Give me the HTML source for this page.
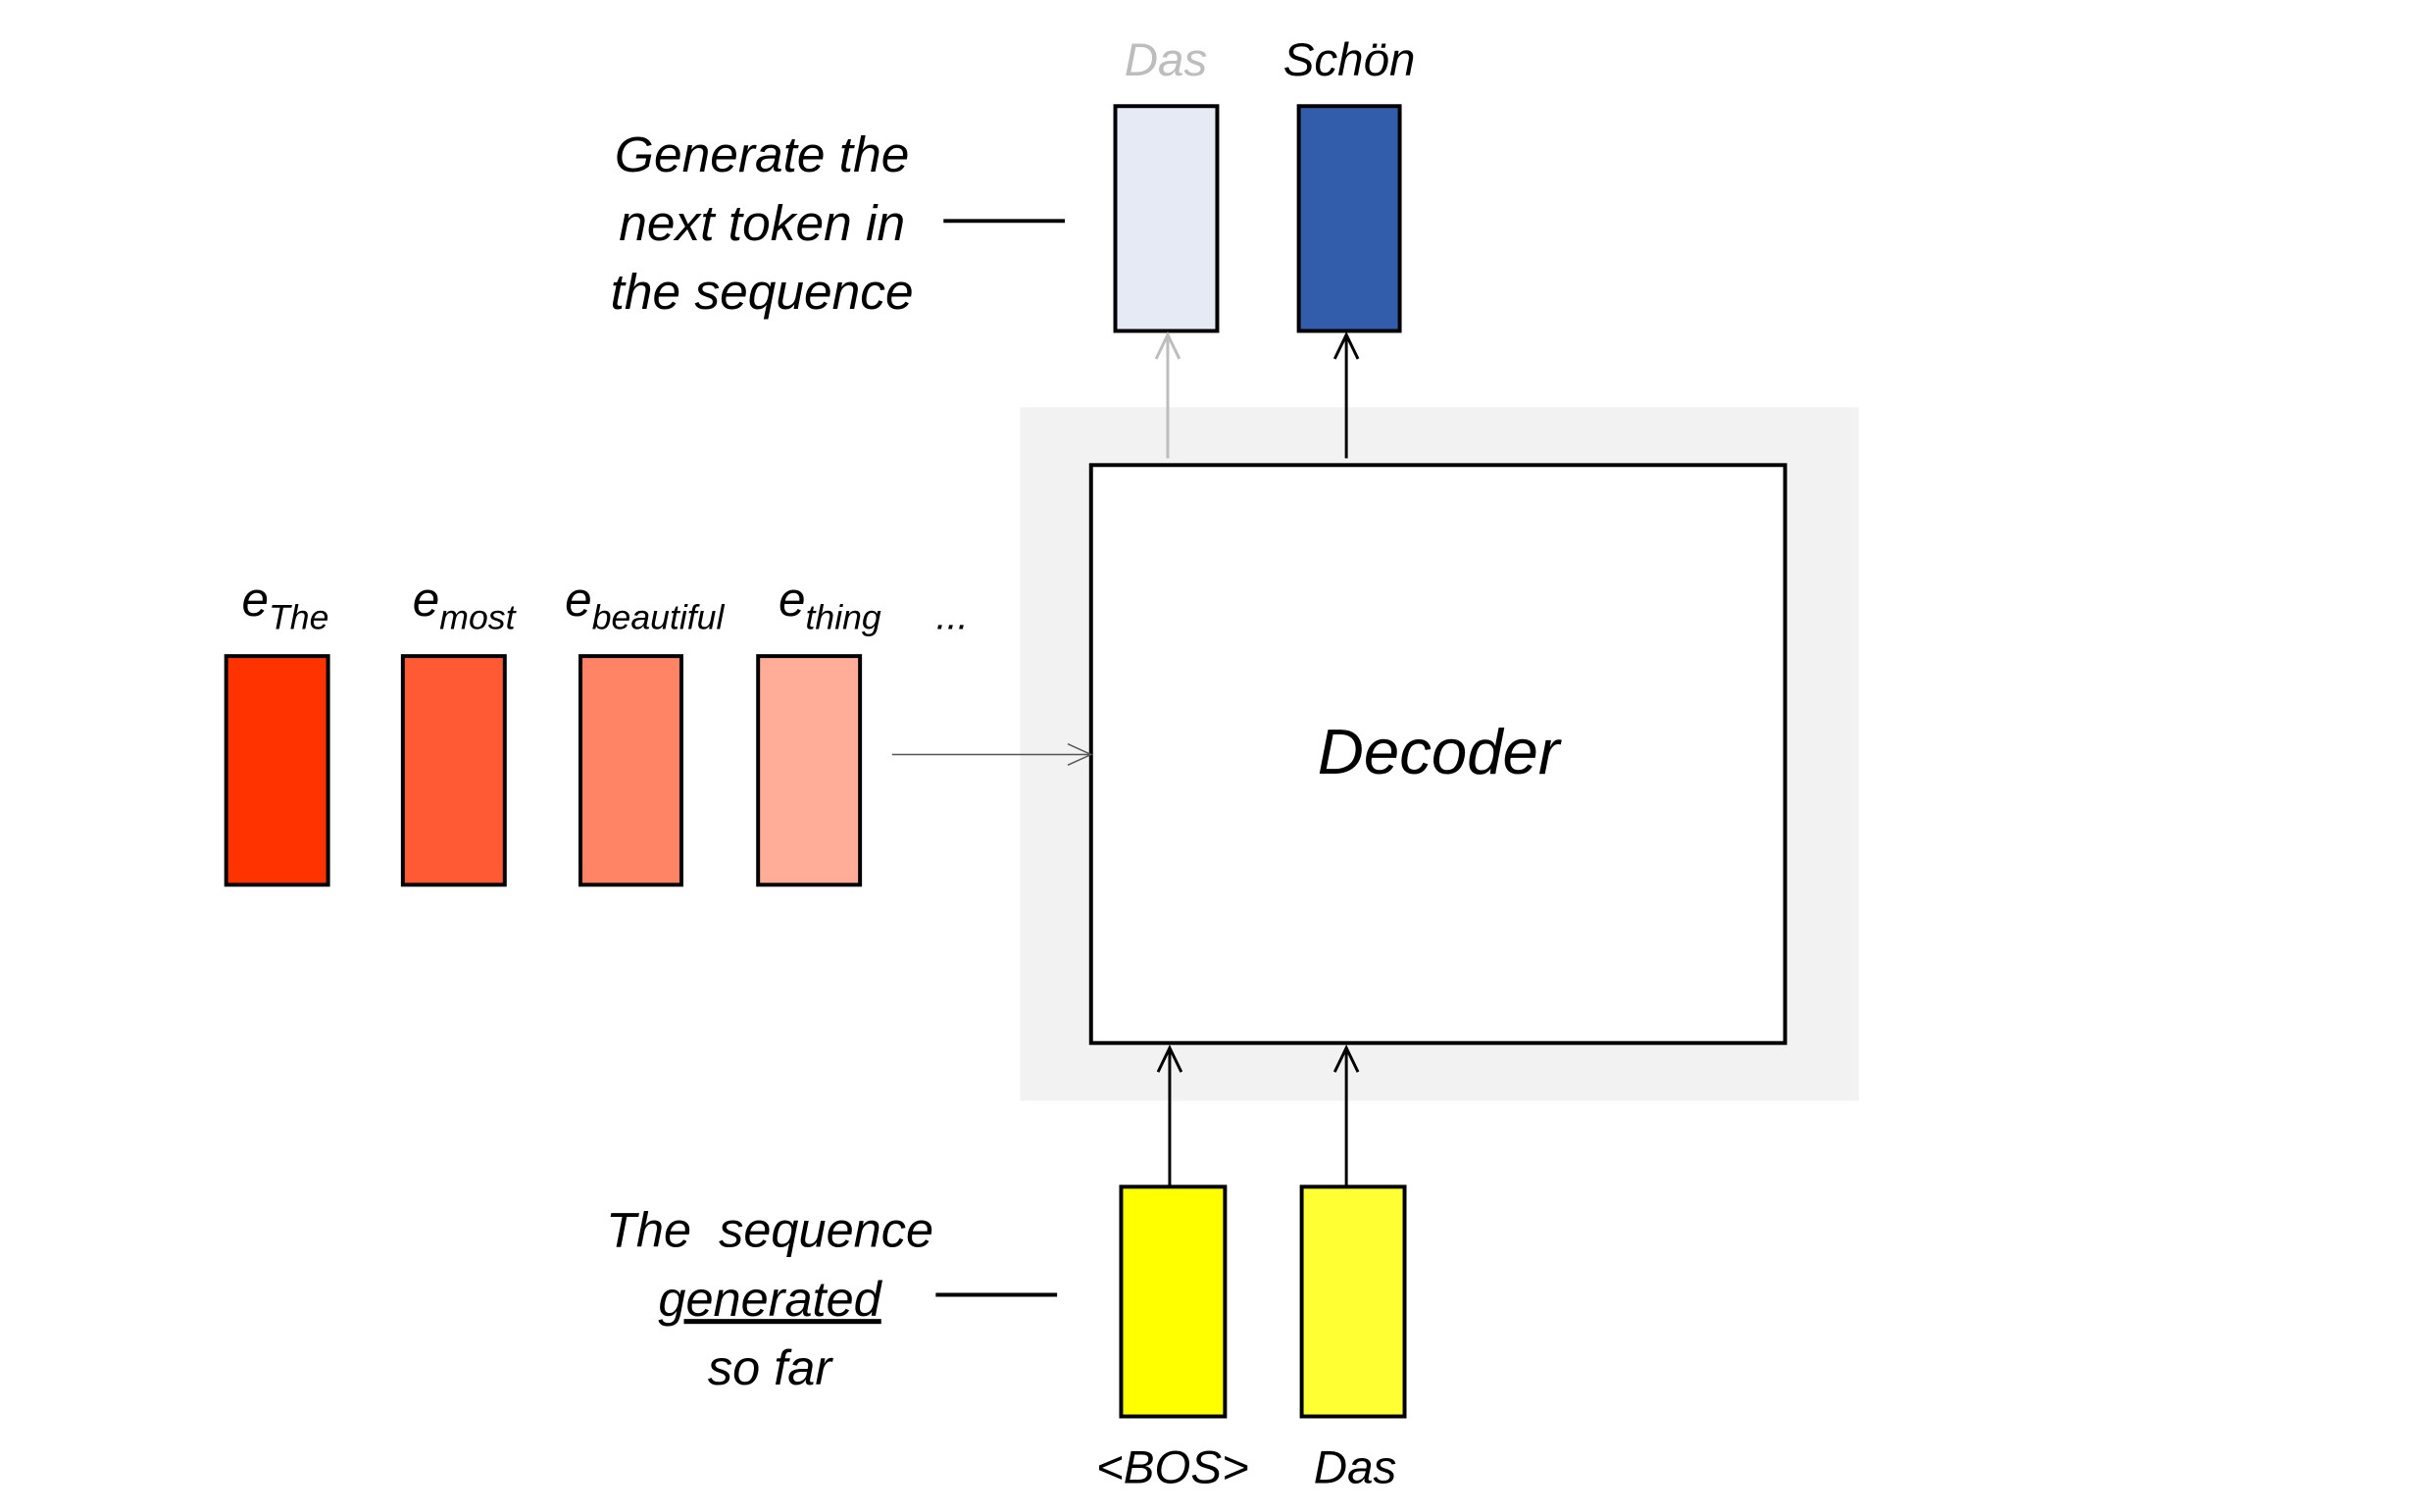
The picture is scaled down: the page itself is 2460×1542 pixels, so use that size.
<!DOCTYPE html>
<html><head><meta charset="utf-8"><style>html,body{margin:0;padding:0;background:#fff}svg{display:block}</style></head>
<body>
<svg width="2460" height="1542" viewBox="0 0 2460 1542" xmlns="http://www.w3.org/2000/svg" font-family="Liberation Sans, sans-serif" font-style="italic">
<g transform="scale(0.990,0.984)">
<rect x="1051" y="422" width="864" height="719" fill="#f2f2f2"/>
<rect x="1124" y="482" width="715" height="599" fill="#fff" stroke="#000" stroke-width="4"/>
<text x="1482" y="802" font-size="66" text-anchor="middle" fill="#000">Decoder</text>

<rect x="1149" y="110" width="105" height="233" fill="#e6eaf4" stroke="#000" stroke-width="4"/>
<rect x="1338" y="110" width="104" height="233" fill="#325dab" stroke="#000" stroke-width="4"/>
<text x="1201" y="78" font-size="48" text-anchor="middle" fill="#bdbdbd">Das</text>
<text x="1390" y="78" font-size="48" text-anchor="middle" fill="#000">Schön</text>
<line x1="1203" y1="475" x2="1203" y2="347" stroke="#bdbdbd" stroke-width="3"/>
<polyline points="1191,372 1203,347 1215,372" fill="none" stroke="#bdbdbd" stroke-width="3"/>
<line x1="1387" y1="475" x2="1387" y2="347" stroke="#000" stroke-width="3"/>
<polyline points="1375,372 1387,347 1399,372" fill="none" stroke="#000" stroke-width="3"/>

<text font-size="52" text-anchor="middle" fill="#000"><tspan x="785" y="178">Generate the</tspan><tspan x="785" y="249">next token in</tspan><tspan x="785" y="320">the sequence</tspan></text>
<line x1="972" y1="229" x2="1097" y2="229" stroke="#000" stroke-width="4"/>

<rect x="233" y="680" width="105" height="237" fill="#ff3300" stroke="#000" stroke-width="4"/>
<rect x="415" y="680" width="105" height="237" fill="#ff5a33" stroke="#000" stroke-width="4"/>
<rect x="598" y="680" width="104" height="237" fill="#ff8466" stroke="#000" stroke-width="4"/>
<rect x="781" y="680" width="105" height="237" fill="#ffad99" stroke="#000" stroke-width="4"/>
<text y="638" font-size="50" fill="#000"><tspan x="249">e</tspan><tspan font-size="36" dy="14">The</tspan></text>
<text y="638" font-size="50" fill="#000"><tspan x="425">e</tspan><tspan font-size="36" dy="14">most</tspan></text>
<text y="638" font-size="50" fill="#000"><tspan x="582">e</tspan><tspan font-size="36" dy="14">beautiful</tspan></text>
<text y="638" font-size="50" fill="#000"><tspan x="802">e</tspan><tspan font-size="36" dy="14">thing</tspan></text>
<text x="981" y="652" font-size="40" text-anchor="middle" fill="#000">...</text>
<line x1="919" y1="782" x2="1124" y2="782" stroke="#555" stroke-width="1.5"/>
<polyline points="1100,771 1124,782 1100,793" fill="none" stroke="#555" stroke-width="1.5"/>

<line x1="1205" y1="1230" x2="1205" y2="1086" stroke="#000" stroke-width="3"/>
<polyline points="1193,1111 1205,1086 1217,1111" fill="none" stroke="#000" stroke-width="3"/>
<line x1="1387" y1="1230" x2="1387" y2="1086" stroke="#000" stroke-width="3"/>
<polyline points="1375,1111 1387,1086 1399,1111" fill="none" stroke="#000" stroke-width="3"/>
<rect x="1155" y="1230" width="107" height="238" fill="#ffff00" stroke="#000" stroke-width="4"/>
<rect x="1341" y="1230" width="106" height="238" fill="#ffff33" stroke="#000" stroke-width="4"/>
<text x="1208" y="1537" font-size="48" text-anchor="middle" fill="#000">&lt;BOS&gt;</text>
<text x="1396" y="1537" font-size="48" text-anchor="middle" fill="#000">Das</text>

<text font-size="51" text-anchor="middle" fill="#000" xml:space="preserve"><tspan x="793" y="1292">The  sequence</tspan><tspan x="793" y="1364" text-decoration="underline">generated</tspan><tspan x="793" y="1435">so far</tspan></text>
<line x1="964" y1="1342" x2="1089" y2="1342" stroke="#000" stroke-width="4"/>
</g>
</svg>
</body></html>
